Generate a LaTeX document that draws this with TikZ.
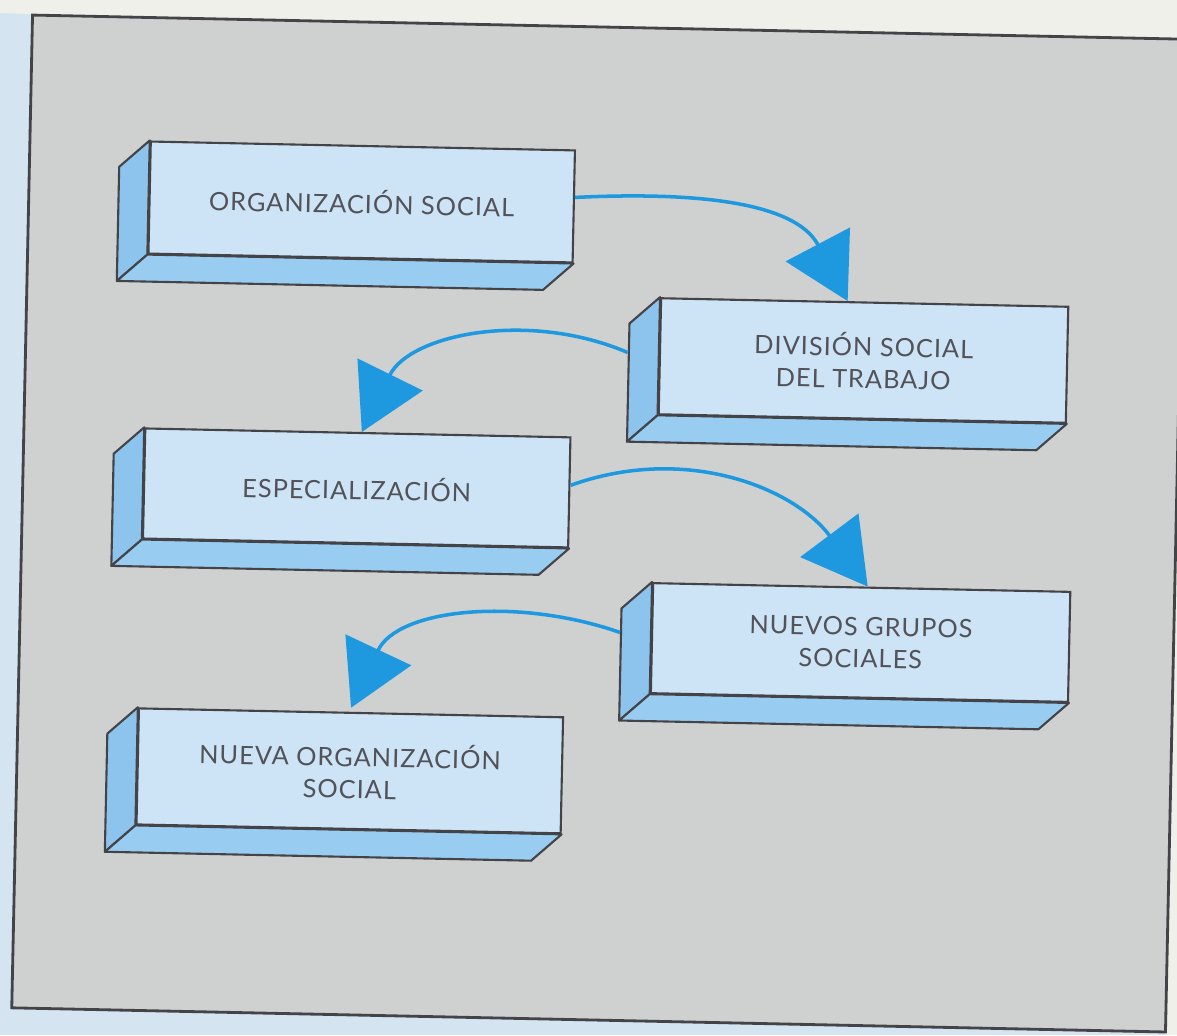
\documentclass[tikz,border=0pt]{standalone}
\usepackage{fontspec}
\setmainfont{Lato}[LetterSpace=4]
\usetikzlibrary{arrows.meta, calc, positioning}

\definecolor{margen}{RGB}{212,228,241}
\definecolor{papel}{RGB}{240,240,234}
\definecolor{fondo}{RGB}{207,208,208}
\definecolor{borde}{RGB}{68,68,72}
\definecolor{cara}{RGB}{204,228,246}
\definecolor{lado}{RGB}{140,196,238}
\definecolor{suelo}{RGB}{152,205,241}
\definecolor{azul}{RGB}{30,152,222}
\definecolor{letra}{RGB}{82,82,88}

\tikzset{
  bloque/.style={rectangle, draw=borde, fill=cara, line width=0.6pt, text=letra,
    align=center, inner sep=0pt, font=\fontsize{7.2}{9.1}\selectfont},
  cara lado/.style={draw=borde, fill=lado, line width=0.6pt, line join=round},
  cara suelo/.style={draw=borde, fill=suelo, line width=0.6pt, line join=round},
  flecha/.style={draw=azul, line width=1pt, -{Triangle[length=6.4mm, width=7.2mm]}}
}

\newcommand{\caras}[1]{%
  \filldraw[cara lado] (#1.north west) -- ($(#1.north west)+(-30,27)$) --
    ($(#1.south west)+(-30,27)$) -- (#1.south west) -- cycle;
  \filldraw[cara suelo] (#1.south west) -- ($(#1.south west)+(-30,27)$) --
    ($(#1.south east)+(-30,27)$) -- (#1.south east) -- cycle;
}

\begin{document}
\begin{tikzpicture}[x=0.01cm, y=-0.01cm]
\useasboundingbox (0,0) rectangle (1177,1035);
\fill[margen] (0,0) rectangle (1177,1035);
\fill[papel] (0,0) -- (1177,0) -- (1177,1035) -- (1166,1035) -- (1177,40) -- (33,14) -- (0,13) -- cycle;

\begin{scope}[rotate around={-1.2:(599,523.5)}, transform shape]
\draw[draw=borde, fill=fondo, line width=0.8pt] (22,27) rectangle (1176,1020);

\path (355,207) node[bloque, minimum width=4.24cm, minimum height=1.12cm] (org-social) {ORGANIZACIÓN SOCIAL};
\path (860,355) node[bloque, minimum width=4.07cm, minimum height=1.16cm] (div-social) {DIVISIÓN SOCIAL\\DEL TRABAJO};
\path (356,493) node[bloque, minimum width=4.25cm, minimum height=1.10cm] (especial) {ESPECIALIZACIÓN};
\path (863,637) node[bloque, minimum width=4.17cm, minimum height=1.10cm] (nuevos-grupos) {NUEVOS GRUPOS\\SOCIALES};
\path (355,776) node[bloque, minimum width=4.24cm, minimum height=1.16cm] (nueva-org) {NUEVA ORGANIZACIÓN\\SOCIAL};

\caras{org-social}
\caras{div-social}
\caras{especial}
\caras{nuevos-grupos}
\caras{nueva-org}

\draw[flecha] ($(org-social.east)+(0,-9)$) to[out=4, in=119] ($(div-social.north)+(-17,0)$);
\draw[flecha] ($(div-social.west)+(-31,-3)$) to[out=158, in=65] ($(especial.north)+(4,0)$);
\draw[flecha] ($(especial.east)+(0,-7)$) to[out=21, in=128] ($(nuevos-grupos.north)+(6,0)$);
\draw[flecha] ($(nuevos-grupos.west)+(-31,-5)$) to[out=162, in=66] ($(nueva-org.north)+(0,-4)$);
\end{scope}
\end{tikzpicture}
\end{document}
